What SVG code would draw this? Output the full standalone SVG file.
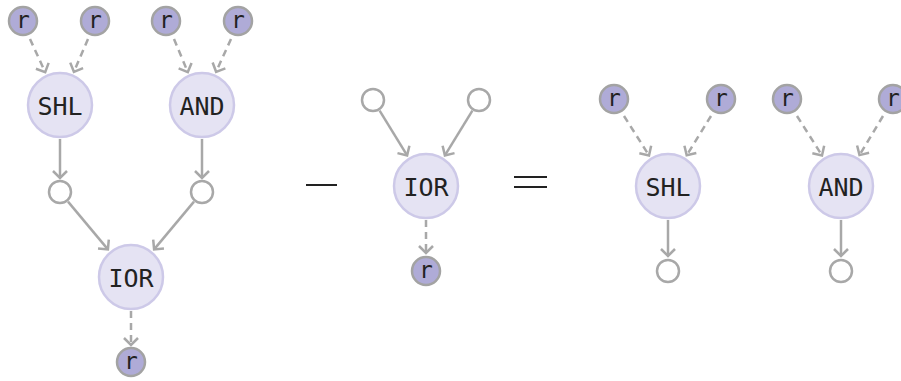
<svg xmlns="http://www.w3.org/2000/svg" width="901" height="381" viewBox="0 0 901 381">
  <style>
    .op circle { fill: #e5e3f3; stroke: #cdc9e8; stroke-width: 2.5; }
    .reg circle { fill: #afabd7; stroke: #a3a3a3; stroke-width: 2.5; }
    .port circle { fill: #ffffff; stroke: #a8a8a8; stroke-width: 2.5; }
    .op text { font-family: "DejaVu Sans Mono", "Liberation Mono", monospace; font-size: 25px; fill: #222222; text-anchor: middle; }
    .reg text { font-family: "DejaVu Sans Mono", "Liberation Mono", monospace; font-size: 23px; fill: #222222; text-anchor: middle; }
    .edge { fill: none; stroke: #a8a8a8; stroke-width: 2.5; marker-end: url(#chev); }
    .dash { stroke-dasharray: 7 5; }
    .sym { stroke: #222222; stroke-width: 2; }
  </style>
  <defs>
    <marker id="chev" markerUnits="userSpaceOnUse" viewBox="-10 -10 20 20" markerWidth="20" markerHeight="20" refX="0" refY="0" orient="auto" overflow="visible">
      <path d="M-7,-7 L0,0 L-7,7" fill="none" stroke="#a8a8a8" stroke-width="2.5"/>
    </marker>
  </defs>

  <!-- connectors -->
  <g id="edges">
    <!-- left graph -->
    <line class="edge dash" x1="30" y1="39" x2="45.2" y2="72.2"/>
    <line class="edge dash" x1="88" y1="39" x2="73.9" y2="71.8"/>
    <line class="edge dash" x1="174" y1="39" x2="187.8" y2="72.1"/>
    <line class="edge dash" x1="231" y1="39" x2="216.1" y2="71.8"/>
    <line class="edge" x1="60" y1="139" x2="60" y2="178"/>
    <line class="edge" x1="202" y1="139" x2="202" y2="178"/>
    <line class="edge" x1="68" y1="201.6" x2="107.9" y2="249.4"/>
    <line class="edge" x1="194" y1="201.6" x2="154.1" y2="249.4"/>
    <line class="edge dash" x1="131" y1="311" x2="131" y2="345"/>
    <!-- middle graph -->
    <line class="edge" x1="379.6" y1="110.6" x2="407.1" y2="155.4"/>
    <line class="edge" x1="472.4" y1="110.6" x2="444.9" y2="155.4"/>
    <line class="edge dash" x1="426" y1="220" x2="426" y2="253"/>
    <!-- right graph -->
    <line class="edge dash" x1="624" y1="116" x2="649" y2="155.4"/>
    <line class="edge dash" x1="711" y1="116" x2="686.7" y2="155.3"/>
    <line class="edge dash" x1="797" y1="116" x2="822" y2="155.4"/>
    <line class="edge dash" x1="883" y1="116" x2="859.5" y2="155.1"/>
    <line class="edge" x1="668" y1="220" x2="668" y2="256"/>
    <line class="edge" x1="841" y1="220" x2="841" y2="256"/>
  </g>

  <!-- left graph nodes -->
  <g id="l-r1" class="reg"><circle cx="23" cy="21" r="14"/><text x="23" y="28">r</text></g>
  <g id="l-r2" class="reg"><circle cx="95" cy="21" r="14"/><text x="95" y="28">r</text></g>
  <g id="l-r3" class="reg"><circle cx="166" cy="21" r="14"/><text x="166" y="28">r</text></g>
  <g id="l-r4" class="reg"><circle cx="238" cy="21" r="14"/><text x="238" y="28">r</text></g>
  <g id="l-shl" class="op"><circle cx="60" cy="105" r="32"/><text x="60" y="114.5">SHL</text></g>
  <g id="l-and" class="op"><circle cx="202" cy="105" r="32"/><text x="202" y="114.5">AND</text></g>
  <g id="l-p1" class="port"><circle cx="60" cy="192" r="11"/></g>
  <g id="l-p2" class="port"><circle cx="202" cy="192" r="11"/></g>
  <g id="l-ior" class="op"><circle cx="131" cy="277" r="32"/><text x="131" y="286.5">IOR</text></g>
  <g id="l-rout" class="reg"><circle cx="131" cy="362" r="14"/><text x="131" y="369">r</text></g>

  <!-- minus -->
  <g id="minus"><line class="sym" x1="306" y1="185" x2="337" y2="185"/></g>

  <!-- middle graph nodes -->
  <g id="m-p1" class="port"><circle cx="373" cy="100" r="11"/></g>
  <g id="m-p2" class="port"><circle cx="479" cy="100" r="11"/></g>
  <g id="m-ior" class="op"><circle cx="426" cy="186" r="32"/><text x="426" y="195.5">IOR</text></g>
  <g id="m-rout" class="reg"><circle cx="426" cy="271" r="14"/><text x="426" y="278">r</text></g>

  <!-- equals -->
  <g id="equals">
    <line class="sym" x1="514" y1="177" x2="547" y2="177"/>
    <line class="sym" x1="514" y1="187" x2="547" y2="187"/>
  </g>

  <!-- right graph nodes -->
  <g id="r-r1" class="reg"><circle cx="614" cy="99" r="14"/><text x="614" y="106">r</text></g>
  <g id="r-r2" class="reg"><circle cx="721" cy="99" r="14"/><text x="721" y="106">r</text></g>
  <g id="r-r3" class="reg"><circle cx="787" cy="99" r="14"/><text x="787" y="106">r</text></g>
  <g id="r-r4" class="reg"><circle cx="893" cy="99" r="14"/><text x="893" y="106">r</text></g>
  <g id="r-shl" class="op"><circle cx="668" cy="186" r="32"/><text x="668" y="195.5">SHL</text></g>
  <g id="r-and" class="op"><circle cx="841" cy="186" r="32"/><text x="841" y="195.5">AND</text></g>
  <g id="r-p1" class="port"><circle cx="668" cy="271" r="11"/></g>
  <g id="r-p2" class="port"><circle cx="841" cy="271" r="11"/></g>
</svg>
